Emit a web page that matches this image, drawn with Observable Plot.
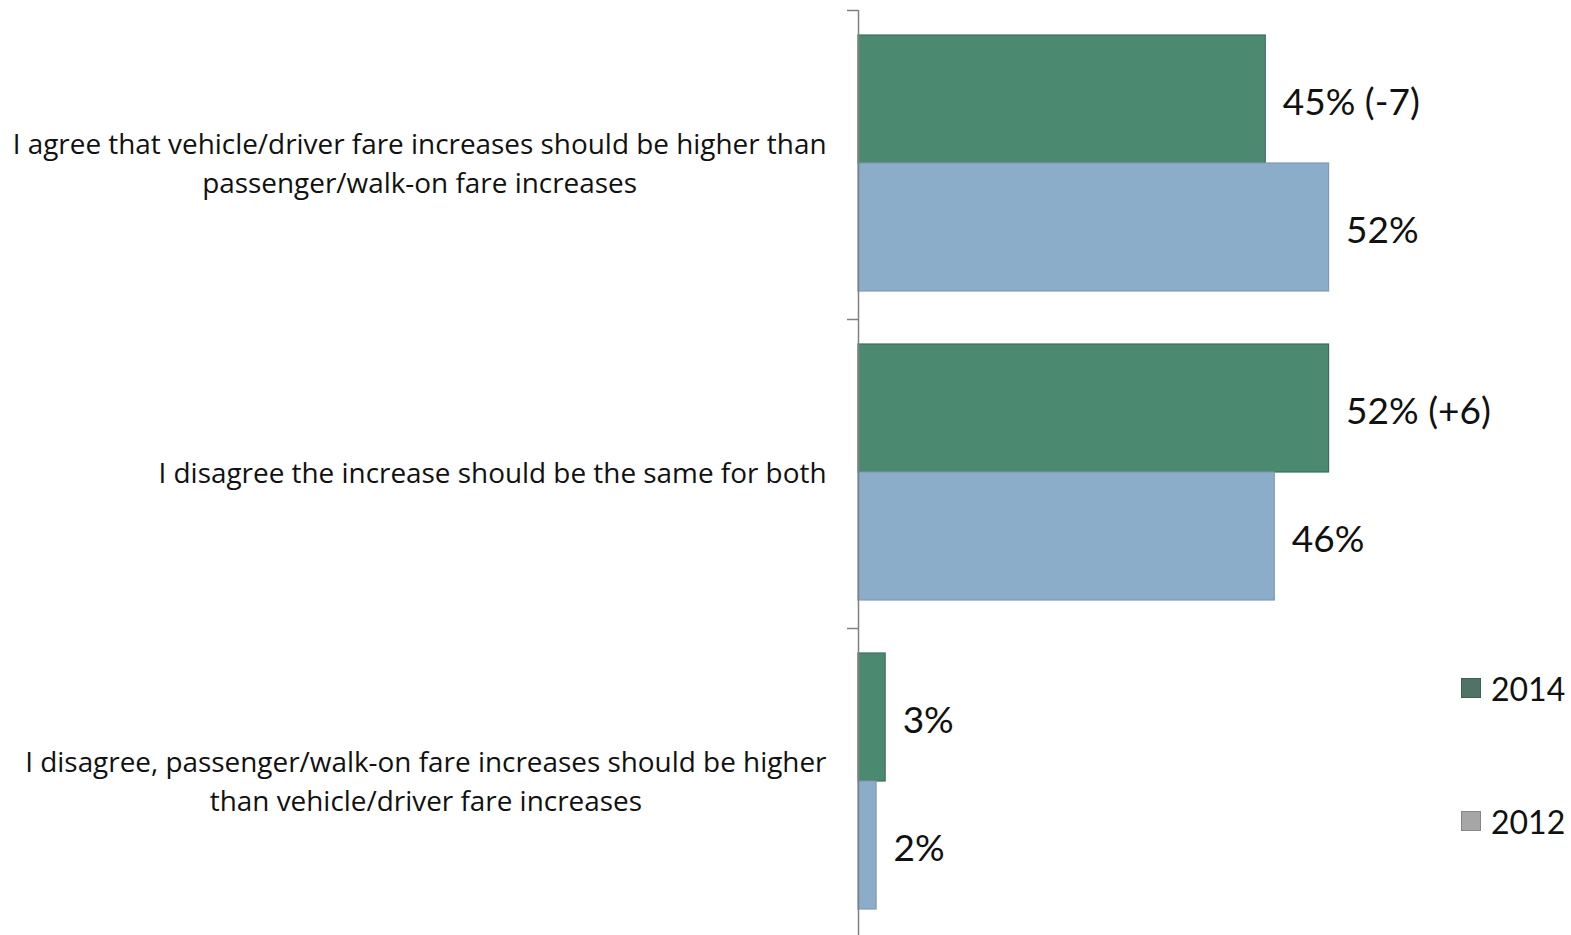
<!DOCTYPE html>
<html>
<head>
<meta charset="utf-8">
<script src="https://cdn.jsdelivr.net/npm/d3@7"></script>
<script src="https://cdn.jsdelivr.net/npm/@observablehq/plot@0.6"></script>
<style>
  html, body { margin: 0; padding: 0; background: #fff; }
  #wrap { position: relative; width: 1571px; height: 935px; overflow: hidden; }
  #wrap svg { position: absolute; left: 0; top: 0; }
  .legend { position: absolute; left: 1461px; font-family: Lato, "Open Sans", sans-serif; font-size: 32px; color: #111; display: flex; align-items: center; }
  .legend .sw { width: 20px; height: 20px; margin-right: 10px; box-sizing: border-box; }
</style>
</head>
<body>
<div id="wrap"></div>
<script>
// ---- data ----
const categories = [
  "I agree that vehicle/driver fare increases should be higher than\npassenger/walk-on fare increases",
  "I disagree the increase should be the same for both",
  "I disagree, passenger/walk-on fare increases should be higher\nthan vehicle/driver fare increases"
];
const years = ["2014", "2012"];
const values2014 = [45, 52, 3];
const values2012 = [52, 46, 2];
const change2014 = [-7, 6, null];

const barColors = {"2014": "#4b8a70", "2012": "#8badc9"};
const barStrokes = {"2014": "#3f6f5c", "2012": "#7f9cb4"};
const legendColors = {"2014": "#4f7466", "2012": "#a6a6a6"};

const catFontSize = 27.9;
const catFont = catFontSize + "px 'Open Sans'";

const rows2014 = categories.map((c, i) => ({category: c, value: values2014[i],
  label: values2014[i] + "%" + (change2014[i] == null ? "" : " (" + (change2014[i] > 0 ? "+" : "") + change2014[i] + ")")}));
const rows2012 = categories.map((c, i) => ({category: c, value: values2012[i], label: values2012[i] + "%"}));

// measure widest line of each category label so the block is right-aligned, lines centred
const ctx = document.createElement("canvas").getContext("2d");
ctx.font = catFont;
function blockWidth(s) { return d3.max(s.split("\n"), l => ctx.measureText(l).width); }

function bandTicks(index, scales, values, dims) {
  const g = d3.create("svg:g");
  const x0 = scales.x(0);
  for (const c of categories) {
    const y = Math.round(scales.y(c)) + 0.5;
    g.append("line").attr("x1", x0 - 11).attr("x2", x0).attr("y1", y).attr("y2", y)
      .attr("stroke", "#808080").attr("stroke-width", 1.5);
  }
  return g.node();
}

const catMarks = categories.map(c => Plot.text([c], {
  y: d => d, text: d => d, frameAnchor: "left", textAnchor: "middle",
  dx: -32 - blockWidth(c) / 2, dy: -4, fontSize: catFontSize, fontFamily: "Open Sans", lineHeight: 1.4, fill: "#111"
}));

const chart = Plot.plot({
  width: 1571,
  height: 935,
  marginTop: 10,
  marginBottom: 0,
  marginLeft: 858,
  marginRight: 0,
  style: {fontFamily: "Lato, 'Open Sans', sans-serif", background: "#fff"},
  x: {domain: [0, 713 / 9.05], axis: null},
  y: {domain: categories, range: [10, 937], padding: 0, axis: null},
  marks: [
    Plot.barX(rows2014, {x: "value", y: "category", fill: barColors["2014"], stroke: barStrokes["2014"], strokeWidth: 1.2, insetTop: 25, insetBottom: 156}),
    Plot.barX(rows2012, {x: "value", y: "category", fill: barColors["2012"], stroke: barStrokes["2012"], strokeWidth: 1.2, insetTop: 153, insetBottom: 28}),
    Plot.ruleX([0], {stroke: "#808080", strokeWidth: 1.5}),
    bandTicks,
    Plot.text(rows2014, {x: "value", y: "category", text: "label", textAnchor: "start", dx: 17, dy: -62, fontSize: 37, fill: "#111"}),
    Plot.text(rows2012, {x: "value", y: "category", text: "label", textAnchor: "start", dx: 17, dy: 66, fontSize: 37, fill: "#111"}),
    ...catMarks
  ]
});
const wrap = document.getElementById("wrap");
wrap.appendChild(chart);

// legend
const legendTops = {"2014": 688, "2012": 821};
for (const yr of years) {
  const d = document.createElement("div");
  d.className = "legend";
  d.style.top = (legendTops[yr] - 22) + "px";
  d.style.height = "44px";
  const sw = document.createElement("span");
  sw.className = "sw";
  sw.style.background = legendColors[yr];
  sw.style.border = "1px solid " + d3.color(legendColors[yr]).darker(0.6);
  const t = document.createElement("span");
  t.textContent = yr;
  d.appendChild(sw); d.appendChild(t);
  wrap.appendChild(d);
}
</script>
</body>
</html>
